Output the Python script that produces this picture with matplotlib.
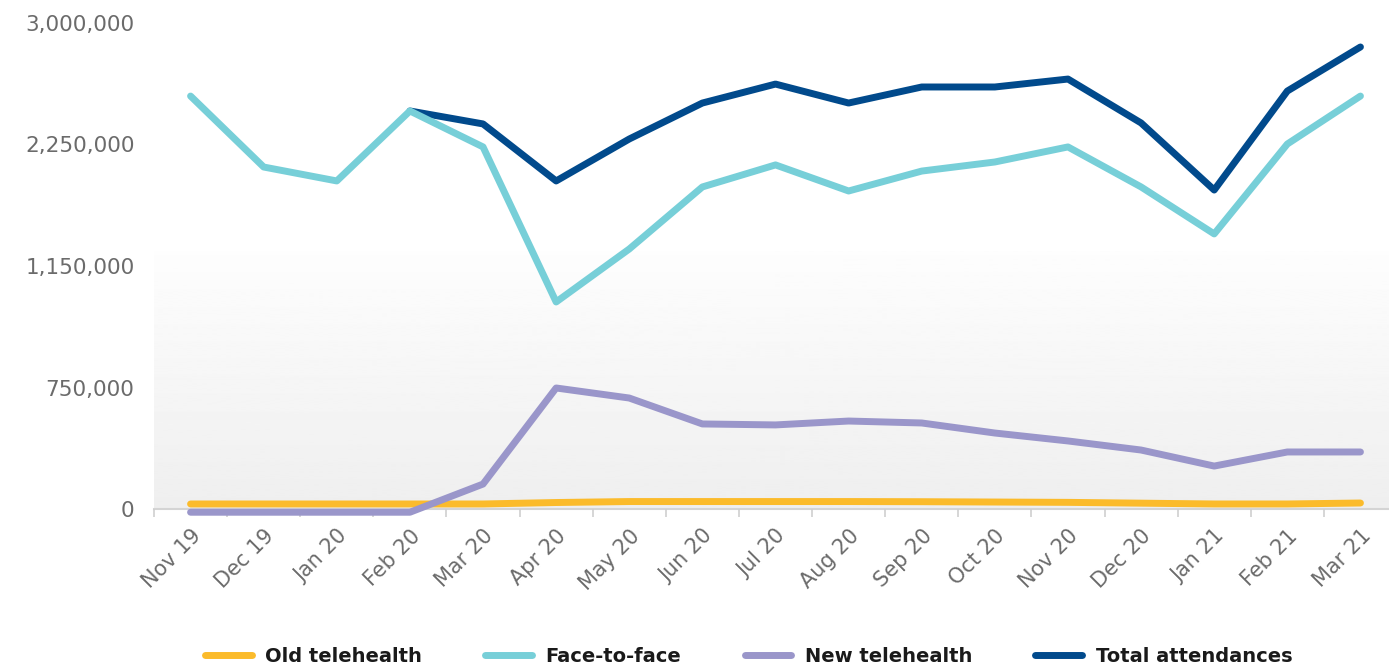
import numpy as np
import matplotlib.pyplot as plt
from matplotlib.lines import Line2D

months = ["Nov 19", "Dec 19", "Jan 20", "Feb 20", "Mar 20", "Apr 20", "May 20",
          "Jun 20", "Jul 20", "Aug 20", "Sep 20", "Oct 20", "Nov 20", "Dec 20",
          "Jan 21", "Feb 21", "Mar 21"]

old_telehealth = [31000, 31000, 31000, 31000, 31000, 40000, 46000, 46000, 46000,
                  46000, 45000, 43000, 41000, 36000, 31000, 31000, 37000]
face_to_face = [2549000, 2111000, 2025000, 2457000, 2235000, 1278000, 1605000,
                1988000, 2124000, 1963000, 2086000, 2142000, 2235000, 1988000,
                1698000, 2253000, 2549000]
new_telehealth = [-20000, -20000, -20000, -20000, 154000, 747000, 685000, 525000,
                  519000, 543000, 531000, 469000, 420000, 364000, 265000, 352000,
                  352000]
total_attendances = [np.nan, np.nan, np.nan, 2457000, 2377000, 2025000, 2284000,
                     2506000, 2623000, 2506000, 2605000, 2605000, 2654000, 2383000,
                     1969000, 2580000, 2852000]

y_ticks = [0, 750000, 1500000, 2250000, 3000000]
y_labels = ["0", "750,000", "1,150,000", "2,250,000", "3,000,000"]

colors = {
    "Old telehealth": "#fbbb2b",
    "Face-to-face": "#77cfd8",
    "New telehealth": "#9a96ca",
    "Total attendances": "#014a8c",
}

fig = plt.figure(figsize=(13.89, 6.64), dpi=100)
ax = fig.add_axes([154 / 1389, 1 - 509 / 664, 1243 / 1389, 486 / 664])

# soft grey band behind the lower half of the plot
grad = np.linspace(0.993, 0.935, 256).reshape(-1, 1)
ax.imshow(grad, cmap="gray", vmin=0, vmax=1, aspect="auto",
          extent=[0, 1, 0, 0.53], transform=ax.transAxes, zorder=0)

x = np.arange(len(months))
line_kw = dict(lw=5, solid_capstyle="round", solid_joinstyle="round", clip_on=False)
ax.plot(x, old_telehealth, color=colors["Old telehealth"], zorder=3, **line_kw)
ax.plot(x, new_telehealth, color=colors["New telehealth"], zorder=4, **line_kw)
ax.plot(x, total_attendances, color=colors["Total attendances"], zorder=5, **line_kw)
ax.plot(x, face_to_face, color=colors["Face-to-face"], zorder=6, **line_kw)

ax.set_xlim(-0.5, len(months) - 0.5)
ax.set_ylim(0, 3000000)

ax.set_yticks(y_ticks)
ax.set_yticklabels(y_labels)
ax.set_xticks(x)
ax.set_xticklabels(months, rotation=45, ha="right", va="top", rotation_mode="anchor")
ax.set_xticks(np.arange(-0.5, len(months)), minor=True)

ax.tick_params(axis="y", length=0, pad=14, labelsize=15.5, labelcolor="#6b6b6b")
ax.tick_params(axis="x", which="major", length=0, pad=12, labelsize=15,
               labelcolor="#6b6b6b")
ax.tick_params(axis="x", which="minor", length=6, width=1.2, color="#cfcfcf")

for side in ["top", "right", "left"]:
    ax.spines[side].set_visible(False)
ax.spines["bottom"].set_color("#d4d4d4")
ax.spines["bottom"].set_linewidth(1.5)
ax.spines["bottom"].set_zorder(1)
ax.set_facecolor("none")

handles = [Line2D([0], [0], color=c, lw=5, solid_capstyle="round") for c in colors.values()]
fig.legend(handles, list(colors.keys()), loc="center", bbox_to_anchor=(0.539, 0.011),
           ncol=4, frameon=False, handlelength=2.4, handletextpad=0.7,
           columnspacing=3.25, prop=dict(family="DejaVu Sans", weight="bold", size=14),
           labelcolor="#1a1a1a")

fig.savefig("out.png", dpi=100)
